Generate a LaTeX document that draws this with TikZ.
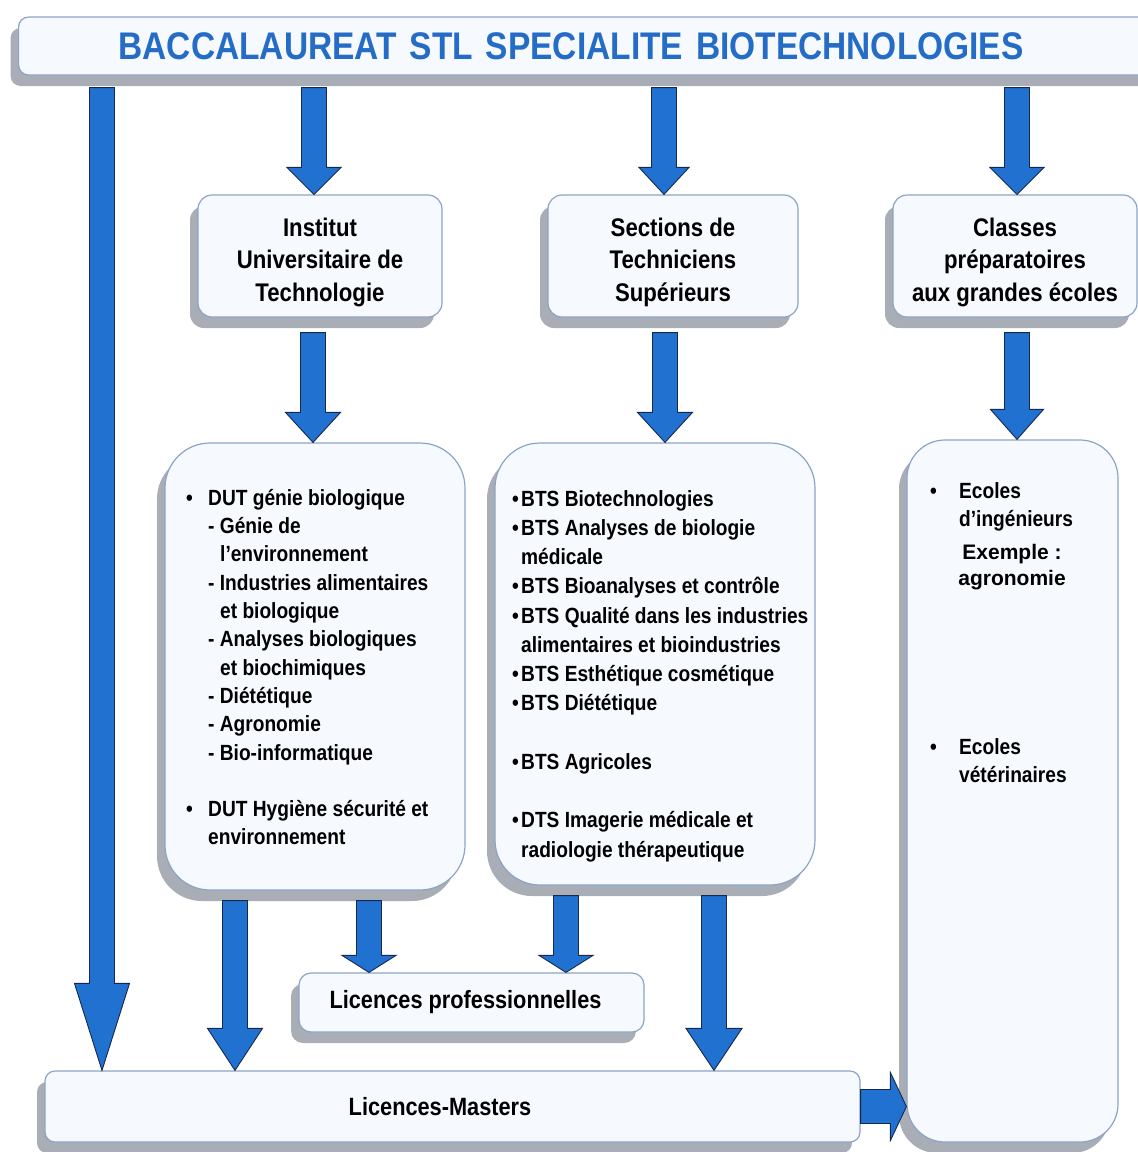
\documentclass[tikz,border=0pt]{standalone}
\usepackage{fontspec}
\setmainfont{Liberation Sans}[FakeStretch=0.87]
\newfontfamily\plainsans{Liberation Sans}
\usetikzlibrary{calc,shadows}

\definecolor{titleblue}{RGB}{36,108,198}
\definecolor{arrowblue}{RGB}{33,114,208}
\definecolor{arrowline}{RGB}{22,40,78}
\definecolor{boxline}{RGB}{140,164,198}
\definecolor{boxfill}{RGB}{246,249,253}
\definecolor{shadowgray}{RGB}{168,173,182}

% block arrow: x, from, to, head length, head half width
\newcommand{\bigarrow}[5]{%
  \draw[blockarrow] let \p1=(#2), \p2=(#3) in
    (#1pt-12.5pt,\y1) -- (#1pt-12.5pt,\y2+#4pt) -- (#1pt-#5pt,\y2+#4pt)
    -- (#1pt,\y2) -- (#1pt+#5pt,\y2+#4pt) -- (#1pt+12.5pt,\y2+#4pt)
    -- (#1pt+12.5pt,\y1) -- cycle;}

\begin{document}
\begin{tikzpicture}[x=1pt,y=-1pt]
\tikzstyle{box} = [rectangle, draw=boxline, line width=1.2pt, fill=boxfill,
rounded corners=14pt, drop shadow={shadow xshift=-8pt, shadow yshift=-11pt,
fill=shadowgray, opacity=1}]
\tikzstyle{head} = [box, align=center, text height=96pt,
font=\fontsize{25.5}{32.5}\selectfont\bfseries]
\tikzstyle{lic} = [box, font=\fontsize{25}{30}\selectfont\bfseries]
\tikzstyle{tall} = [box, rounded corners=45pt]
\tikzstyle{list} = [inner sep=0pt, align=left, anchor=north west,
font=\fontsize{22}{28.3}\selectfont\bfseries]
\tikzstyle{blockarrow} = [draw=arrowline, line width=0.9pt, fill=arrowblue]

\useasboundingbox (0,0) rectangle (1138,1152);

% title
\node[box, rounded corners=10pt, anchor=west, minimum height=58pt, text width=1040pt,
inner xsep=100pt, align=left, text=titleblue,
font=\fontsize{38.5}{40}\selectfont\bfseries] (title) at (18,46)
{BACCALAUREAT STL SPECIALITE BIOTECHNOLOGIES};

% row 1
\node[head, minimum width=244pt, minimum height=122pt] (iut) at (320,256)
{Institut\\Universitaire de\\Technologie};
\node[head, minimum width=250pt, minimum height=122pt] (sts) at (673,256)
{Sections de\\Techniciens\\Supérieurs};
\node[head, minimum width=244pt, minimum height=122pt] (cpge) at (1015,256)
{Classes\\préparatoires\\aux grandes écoles};

% row 2
\node[tall, minimum width=300pt, minimum height=447pt] (dut) at (315,666.5) {};
\node[tall, minimum width=320pt, minimum height=442pt] (bts) at (655,664) {};
\node[tall, rounded corners=38pt, minimum width=211pt, minimum height=702pt] (ecoles) at (1012.5,791) {};

\node[list] (dutlist) at (186,489) {%
\makebox[22pt][l]{•}DUT génie biologique\\
\hspace*{22pt}- Génie de\\
\hspace*{34pt}l’environnement\\
\hspace*{22pt}- Industries alimentaires\\
\hspace*{34pt}et biologique\\
\hspace*{22pt}- Analyses biologiques\\
\hspace*{34pt}et biochimiques\\
\hspace*{22pt}- Diététique\\
\hspace*{22pt}- Agronomie\\
\hspace*{22pt}- Bio-informatique\\[28.3pt]
\makebox[22pt][l]{•}DUT Hygiène sécurité et\\
\hspace*{22pt}environnement};

\node[list, font=\fontsize{22}{29.25}\selectfont\bfseries] (btslist) at (512,490) {%
\makebox[9pt][l]{•}BTS Biotechnologies\\
\makebox[9pt][l]{•}BTS Analyses de biologie\\
\hspace*{9pt}médicale\\
\makebox[9pt][l]{•}BTS Bioanalyses et contrôle\\
\makebox[9pt][l]{•}BTS Qualité dans les industries\\
\hspace*{9pt}alimentaires et bioindustries\\
\makebox[9pt][l]{•}BTS Esthétique cosmétique\\
\makebox[9pt][l]{•}BTS Diététique\\[29.25pt]
\makebox[9pt][l]{•}BTS Agricoles\\[29.25pt]
\makebox[9pt][l]{•}DTS Imagerie médicale et\\
\hspace*{9pt}radiologie thérapeutique};

\node[list] (ingenieurs) at (930,482)
{\makebox[29pt][l]{•}Ecoles\\\hspace*{29pt}d’ingénieurs};
\node[list, anchor=north, align=center, font=\fontsize{21}{26}\plainsans\bfseries] (exemple) at (1012,544)
{Exemple :\\agronomie};
\node[list] (veterinaires) at (930,738)
{\makebox[29pt][l]{•}Ecoles\\\hspace*{29pt}vétérinaires};

% row 3
\node[lic, rounded corners=12pt, minimum width=345pt, minimum height=59pt] (lpro) at (471.5,1002.5)
{\hspace*{-12pt}Licences professionnelles};
\node[lic, rounded corners=10pt, minimum width=815pt, minimum height=71pt] (lm) at (452.5,1106.5)
{\hspace*{-25pt}Licences-Masters};

% arrows
\bigarrow{102}{[yshift=-12pt]title.south}{lm.north}{87}{27.5}
\bigarrow{314}{[yshift=-12pt]title.south}{iut.north}{27}{27}
\bigarrow{664}{[yshift=-12pt]title.south}{sts.north}{27}{25}
\bigarrow{1017}{[yshift=-12pt]title.south}{cpge.north}{27}{27}
\bigarrow{313}{[yshift=-15pt]iut.south}{dut.north}{30}{27.5}
\bigarrow{665}{[yshift=-15pt]sts.south}{bts.north}{30}{27.5}
\bigarrow{1017}{[yshift=-15pt]cpge.south}{ecoles.north}{30}{26.5}
\bigarrow{235}{[yshift=-10pt]dut.south}{lm.north}{42}{27.5}
\bigarrow{369}{[yshift=-10pt]dut.south}{lpro.north}{17}{27}
\bigarrow{566}{[yshift=-10pt]bts.south}{lpro.north}{17}{27}
\bigarrow{714}{[yshift=-10pt]bts.south}{lm.north}{42}{28}
\draw[blockarrow] let \p1=(lm.east), \p2=(ecoles.west) in
  (\x1,\y1+17pt) -- (\x2-16pt,\y1+17pt) -- (\x2-16pt,\y1+34pt) -- (\x2,\y1)
  -- (\x2-16pt,\y1-34pt) -- (\x2-16pt,\y1-17pt) -- (\x1,\y1-17pt) -- cycle;

\end{tikzpicture}
\end{document}
